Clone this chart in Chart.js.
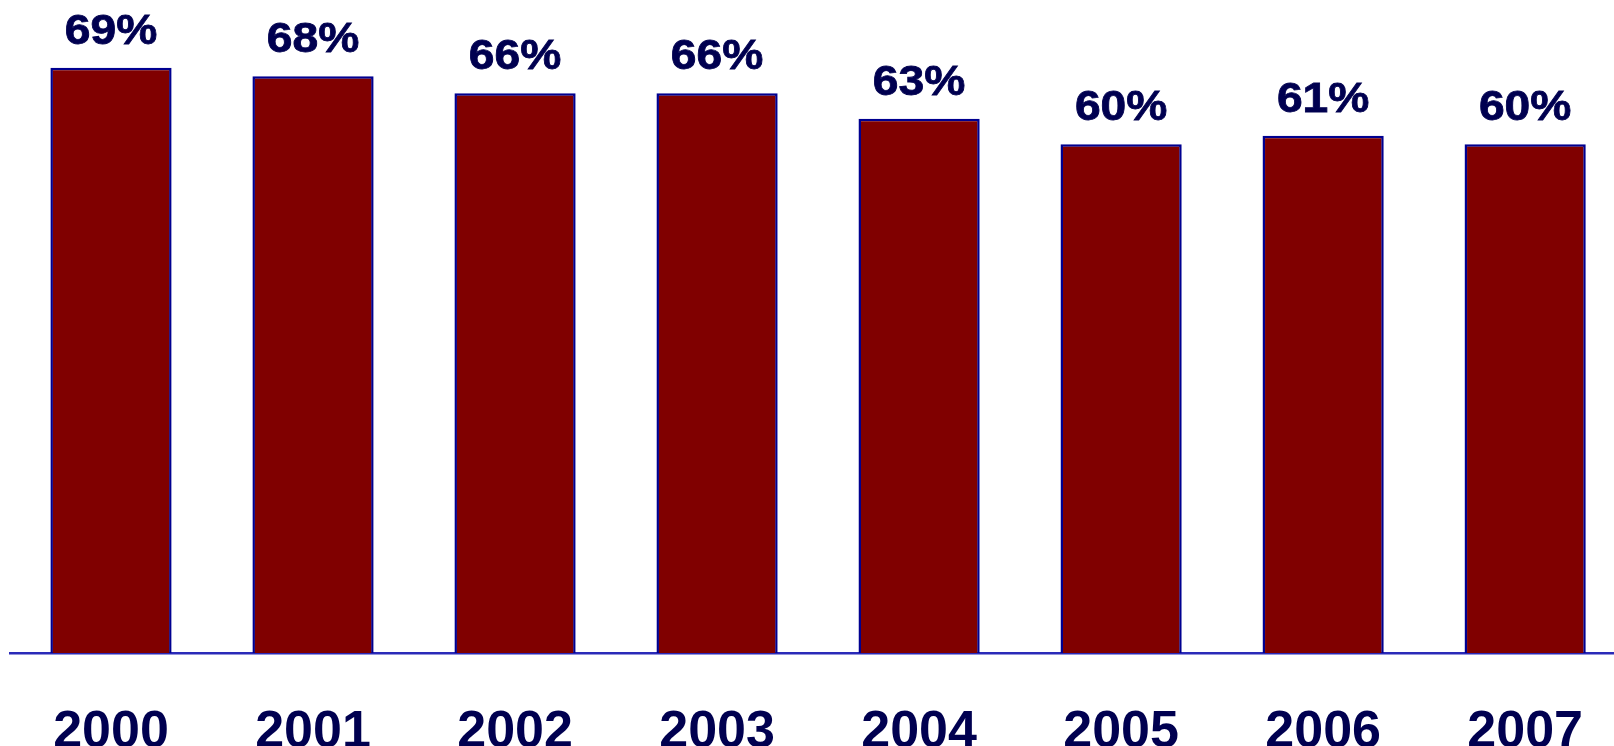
<!DOCTYPE html>
<html>
<head>
<meta charset="utf-8">
<script src="https://cdn.jsdelivr.net/npm/chart.js@4.4.0/dist/chart.umd.min.js"></script>
<style>
  html, body { margin: 0; padding: 0; background: #fff; overflow: hidden; }
  #wrap { position: relative; width: 1631px; height: 746px; }
</style>
</head>
<body>
<div id="wrap"><canvas id="chart"></canvas></div>
<script>
// ---- DATA ----
const years = ['2000', '2001', '2002', '2003', '2004', '2005', '2006', '2007'];
const shares = [69, 68, 66, 66, 63, 60, 61, 60];

const textColor = '#000050';

// value labels above each bar (slightly widened like the original)
const valueLabels = {
    id: 'valueLabels',
    afterDatasetsDraw(chart) {
        const ctx = chart.ctx;
        const meta = chart.getDatasetMeta(0);
        ctx.save();
        ctx.fillStyle = textColor;
        ctx.strokeStyle = textColor;
        ctx.lineWidth = 0.8;
        ctx.font = 'bold 42px "Liberation Sans", Arial, sans-serif';
        ctx.textAlign = 'center';
        ctx.textBaseline = 'alphabetic';
        meta.data.forEach((bar, i) => {
            ctx.save();
            ctx.translate(bar.x, bar.y - 24);
            ctx.scale(1.1, 1);
            ctx.fillText(shares[i] + '%', 0, 0);
            ctx.strokeText(shares[i] + '%', 0, 0);
            ctx.restore();
        });
        ctx.restore();
    }
};

new Chart(document.getElementById('chart'), {
    type: 'bar',
    data: {
        labels: years,
        datasets: [{
            data: shares,
            backgroundColor: '#800000',
            borderColor: '#000090',
            borderWidth: 2.5,
            borderSkipped: 'bottom',
            barPercentage: 0.6,
            categoryPercentage: 1.0
        }]
    },
    options: {
        responsive: true,
        maintainAspectRatio: false,
        animation: false,
        layout: { padding: { left: 10, right: 0, top: 0, bottom: 0 } },
        plugins: {
            legend: { display: false },
            tooltip: { enabled: false }
        },
        scales: {
            y: {
                display: false,
                min: 0,
                max: 77
            },
            x: {
                grid: { display: false, drawTicks: false },
                border: { display: true, color: '#2a2ab8', width: 2.5 },
                ticks: {
                    color: textColor,
                    padding: 48,
                    font: { family: '"Liberation Sans", Arial, sans-serif', size: 52, weight: 'bold' }
                },
                afterFit(axis) { axis.height = 93; }
            }
        }
    },
    plugins: [valueLabels]
});
</script>
</body>
</html>
